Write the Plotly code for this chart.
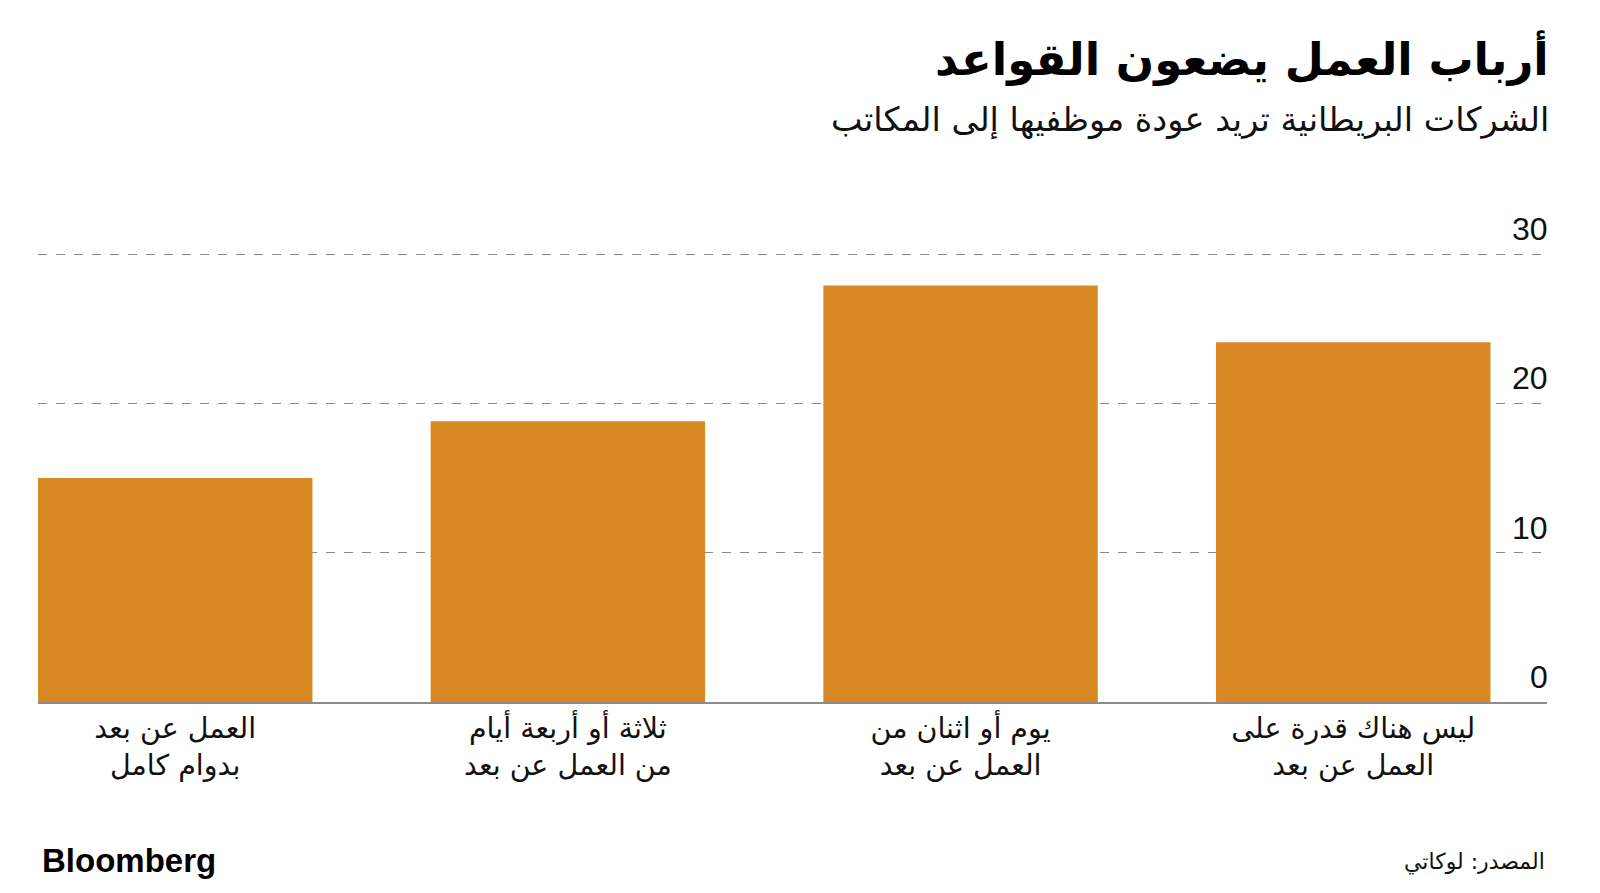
import plotly.graph_objects as go

# ---- data ----
categories = [
    "العمل عن بعد<br>بدوام كامل",
    "ثلاثة أو أربعة أيام<br>من العمل عن بعد",
    "يوم أو اثنان من<br>العمل عن بعد",
    "ليس هناك قدرة على<br>العمل عن بعد",
]
values = [15.0, 18.8, 27.9, 24.1]
y_ticks = [0, 10, 20, 30]
y_ticktext = ["0", "10", "20", "30"]

title = "أرباب العمل يضعون القواعد"
subtitle = "الشركات البريطانية تريد عودة موظفيها إلى المكاتب"
source = "المصدر: لوكاتي"

BAR = "#D98924"
AR_FONT = "DejaVu Sans"

W, H = 1600, 893
M_L, M_R, M_T, M_B = 38, 53, 200, 191
plot_h = H - M_T - M_B
Y_TOP = 30 + (254 - M_T) * 30 / (701.7 - 254)


def py(pixel_y):
    """convert a pixel y (from top) to paper coordinate"""
    return (H - M_B - pixel_y) / plot_h


def px(pixel_x):
    return (pixel_x - M_L) / (W - M_L - M_R)


fig = go.Figure()
fig.add_trace(go.Bar(
    x=list(range(len(categories))),
    y=values,
    width=0.699,
    marker=dict(color=BAR, line=dict(width=0)),
    hoverinfo="skip",
))

annotations = [
    dict(text="<b>" + title + "</b>", xref="paper", yref="paper",
         x=px(1551), y=py(58), xanchor="right", yanchor="middle",
         showarrow=False, font=dict(family=AR_FONT, size=45, color="#000")),
    dict(text=subtitle, xref="paper", yref="paper",
         x=px(1551), y=py(120), xanchor="right", yanchor="middle",
         showarrow=False, font=dict(family=AR_FONT, size=33.5, color="#111")),
    dict(text="<b>Bloomberg</b>", xref="paper", yref="paper",
         x=px(40), y=py(860), xanchor="left", yanchor="middle",
         showarrow=False, font=dict(family="Liberation Sans", size=33, color="#000")),
    dict(text=source, xref="paper", yref="paper",
         x=px(1547), y=py(862), xanchor="right", yanchor="middle",
         showarrow=False, font=dict(family=AR_FONT, size=22, color="#111")),
]
# y-axis tick labels placed above their gridlines at the right edge
for v, t in zip(y_ticks, y_ticktext):
    annotations.append(dict(
        text=t, xref="paper", yref="y", x=1.0, y=v,
        xanchor="right", yanchor="middle", yshift=25, xshift=3, showarrow=False,
        font=dict(family="Liberation Sans", size=32, color="#111"),
    ))

fig.update_layout(
    width=W, height=H,
    margin=dict(l=M_L, r=M_R, t=M_T, b=M_B, pad=0),
    paper_bgcolor="white",
    plot_bgcolor="white",
    showlegend=False,
    xaxis=dict(
        range=[-0.3494, 3.4934],
        tickmode="array",
        tickvals=list(range(len(categories))),
        ticktext=categories,
        tickfont=dict(family=AR_FONT, size=28.5, color="#111"),
        showgrid=False,
        zeroline=False,
        showline=True,
        linecolor="#8c8c8c",
        linewidth=2,
        ticks="",
        ticklabelstandoff=0,
    ),
    yaxis=dict(
        range=[0, Y_TOP],
        tickmode="array",
        tickvals=y_ticks,
        showticklabels=False,
        showgrid=True,
        gridcolor="#8a8a8a",
        gridwidth=1,
        griddash="dash",
        zeroline=False,
        showline=False,
        ticks="",
    ),
    annotations=annotations,
)

fig.write_html("out.html")
